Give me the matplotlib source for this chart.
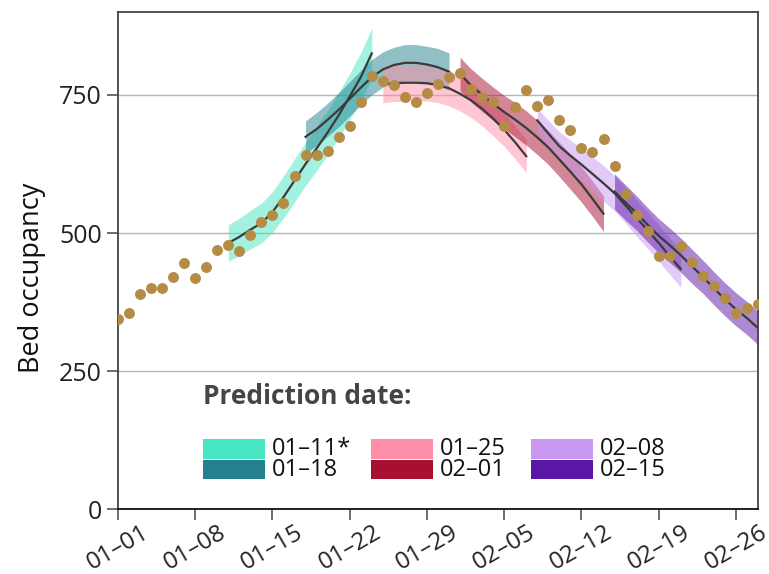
import matplotlib
matplotlib.use('Agg')
import matplotlib.pyplot as plt
from matplotlib.patches import Rectangle

plt.rcParams['font.family'] = ['Open Sans', 'DejaVu Sans']

# observed bed occupancy, one value per day from 01-01 (day 0)
obs_days = list(range(0, 59))
obs_vals = [345, 355, 389, 400, 400, 421, 446, 418, 438, 470,
            478, 468, 497, 520, 533, 555, 604, 642, 642, 648,
            674, 693, 738, 785, 775, 768, 747, 737, 754, 770,
            782, 789, 760, 746, 737, 693, 728, 759, 729, 741,
            705, 687, 653, 647, 670, 622, 571, 533, 504, 458,
            458, 476, 447, 423, 405, 382, 356, 365, 372]

# predictions: first day, central estimate, half-width of the band
pred_names = ['01\u201311*', '01\u201318', '01\u201325', '02\u201301', '02\u201308', '02\u201315']
pred_colors = ['#48E5C2', '#23808F', '#FF8FA8', '#A8102F', '#C996F2', '#5A16A6']
pred_start = [10, 17, 24, 31, 38, 45]
pred_mid = [
    [482, 493, 506, 518, 538, 565, 595, 625, 653, 682, 713, 747, 782, 825],
    [674, 688, 705, 723, 743, 763, 782, 796, 804, 808, 808, 805, 800, 792],
    [769, 771, 772, 772, 771, 768, 762, 752, 740, 725, 707, 687, 664, 639],
    [788, 767, 750, 734, 719, 705, 690, 673, 655, 633, 611, 588, 562, 535],
    [704, 680, 657, 640, 624, 607, 590, 572, 550, 527, 505, 482, 458, 435],
    [575, 555, 536, 515, 495, 478, 460, 440, 421, 400, 380, 362, 346, 328],
]
pred_half = [
    [33, 34, 35, 36, 37, 38, 39, 39, 40, 40, 41, 42, 44, 46],
    [29, 30, 30, 31, 31, 31, 32, 32, 32, 33, 33, 33, 34, 34],
    [33, 33, 33, 33, 32, 32, 32, 31, 31, 31, 31, 30, 30, 30],
    [30, 30, 30, 30, 30, 31, 31, 31, 31, 31, 32, 32, 32, 32],
    [22, 24, 26, 28, 30, 31, 32, 32, 32, 33, 33, 33, 33, 33],
    [32, 32, 31, 31, 31, 31, 31, 31, 30, 30, 30, 30, 30, 30],
]

tick_days = [0, 7, 14, 21, 28, 35, 42, 49, 56]
tick_labels = ['01\u201301', '01\u201308', '01\u201315', '01\u201322', '01\u201329',
               '02\u201305', '02\u201312', '02\u201319', '02\u201326']

fig = plt.figure(figsize=(7.69, 5.74), dpi=100)
ax = fig.add_axes([0.1534, 0.1127, 0.8323, 0.8664])

for i in range(len(pred_names)):
    d = [pred_start[i] + k for k in range(len(pred_mid[i]))]
    lo = [m - h for m, h in zip(pred_mid[i], pred_half[i])]
    hi = [m + h for m, h in zip(pred_mid[i], pred_half[i])]
    ax.fill_between(d, lo, hi, color=pred_colors[i], alpha=0.5, lw=0, zorder=2)

for i in range(len(pred_names)):
    d = [pred_start[i] + k for k in range(len(pred_mid[i]))]
    ax.plot(d, pred_mid[i], color='#3a3a3a', lw=1.6, zorder=3)

ax.scatter(obs_days, obs_vals, s=62, color='#B58C45', lw=0, zorder=4)

ax.set_xlim(0, 58)
ax.set_ylim(0, 900)
ax.set_yticks([0, 250, 500, 750])
ax.set_xticks(tick_days)
ax.set_xticklabels(tick_labels, rotation=30)
ax.tick_params(labelsize=18, length=8, width=1.2, color='#555555', labelcolor='#222222')
ax.tick_params(axis='x', labelsize=17.5, pad=0)
ax.yaxis.grid(True, color='#b5b5b5', lw=1)
ax.set_axisbelow(True)
for s in ['left', 'right', 'top']:
    ax.spines[s].set_color('#444444')
ax.spines['bottom'].set_color('#111111')
for s in ax.spines.values():
    s.set_linewidth(1.3)

ax.set_ylabel('Bed occupancy', fontsize=19.5, color='#111111')
ax.yaxis.set_label_coords(-0.113, 0.465)

# legend, drawn by hand to get the tight stacked rows
W, H = 769.0, 574.0
fig.text(203 / W, 1 - 404 / H, 'Prediction date:', fontsize=19, fontweight='bold',
         color='#454545', ha='left', va='baseline')
col_x = [203, 371, 531]
row_y = [439, 459.5]
for i in range(len(pred_names)):
    c, r = i // 2, i % 2
    x0, y0 = col_x[c], row_y[r]
    fig.patches.append(Rectangle((x0 / W, 1 - (y0 + 19.5) / H), 62 / W, 19.5 / H,
                                 transform=fig.transFigure, color=pred_colors[i], lw=0))
    fig.text((x0 + 69) / W, 1 - (y0 + 10) / H, pred_names[i], fontsize=17,
             color='#111111', ha='left', va='center')

fig.savefig('out.png', dpi=100)
